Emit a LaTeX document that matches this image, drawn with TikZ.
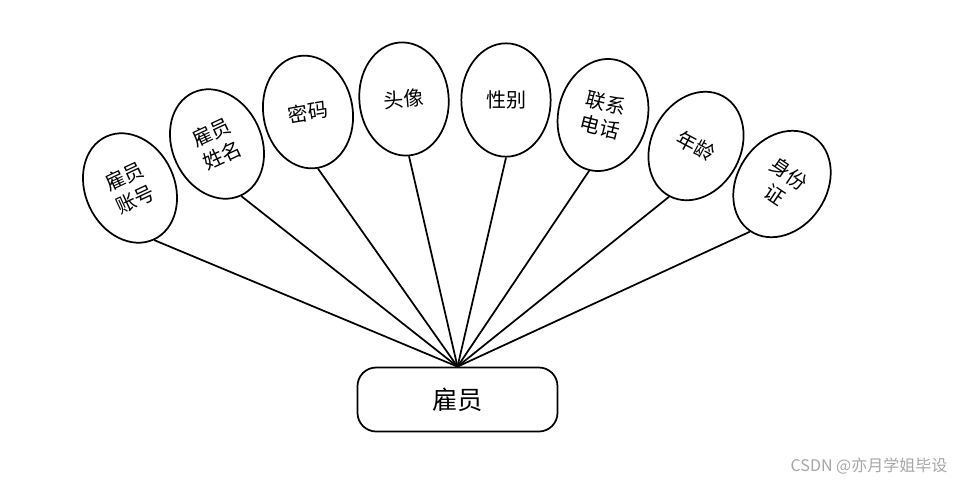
\documentclass[tikz,border=0pt]{standalone}
\usepackage{fontspec}
\setmainfont{Noto Sans CJK SC}
\usetikzlibrary{shapes.geometric}
\tikzset{attr/.style = {draw, line width = 1.3pt, ellipse, minimum width = 67pt, minimum height = 85pt, inner sep = 0, align = center, font = \fontsize{15}{19}\selectfont}}
\tikzset{entity/.style = {draw, line width = 1.3pt, rounded corners = 14pt, minimum width = 150pt, minimum height = 48pt, font = \fontsize{19}{22}\selectfont}}
\tikzset{link/.style = {line width = 1.3pt}}

\begin{document}
\begin{tikzpicture}[x = 0.75pt, y = -0.75pt]
    \useasboundingbox (0, 0) rectangle (955, 483);
    \node [entity] (emp) at (457.5, 399.5) {雇员};
    \node [attr, rotate = 25] (acct) at (130, 188) {雇员\\账号};
    \node [attr, rotate = 25] (name) at (217, 144) {雇员\\姓名};
    \node [attr, rotate = 10] (pwd) at (308, 112) {密码};
    \node [attr, rotate = 5] (avatar) at (404, 99) {头像};
    \node [attr] (sex) at (506, 100) {性别};
    \node [attr, rotate = -14] (phone) at (603, 115) {联系\\电话};
    \node [attr, rotate = -28] (age) at (696, 146) {年龄};
    \node [attr, rotate = -34] (idno) at (782, 184) {身份\\证};
    \foreach \a in {acct, name, pwd, avatar, sex, phone, age, idno}
        \draw [link] (\a.south) -- (emp.north);
    \node [text = black!35, font = \fontsize{12}{14}\selectfont, anchor = east] (mark) at (952, 466) {CSDN @亦月学姐毕设};
\end{tikzpicture}
\end{document}
